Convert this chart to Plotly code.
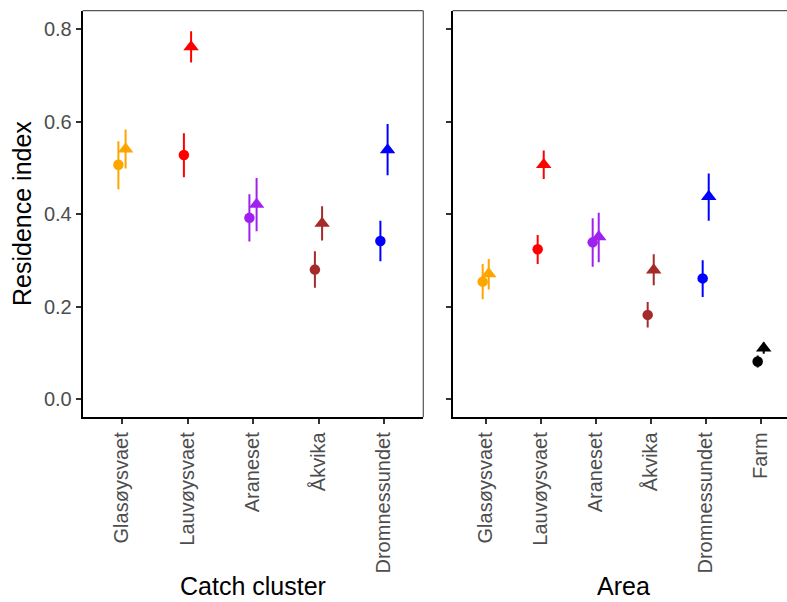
import plotly.graph_objects as go

# ---- data ----
catch_sites = ["Glasøysvaet", "Lauvøysvaet", "Araneset", "Åkvika", "Dromnessundet"]
catch_circle_mean = [0.507, 0.528, 0.392, 0.280, 0.342]
catch_circle_lo = [0.454, 0.480, 0.341, 0.241, 0.298]
catch_circle_hi = [0.558, 0.575, 0.443, 0.320, 0.386]
catch_tri_mean = [0.541, 0.762, 0.421, 0.380, 0.539]
catch_tri_lo = [0.499, 0.728, 0.363, 0.343, 0.484]
catch_tri_hi = [0.583, 0.796, 0.478, 0.417, 0.595]

area_sites = ["Glasøysvaet", "Lauvøysvaet", "Araneset", "Åkvika", "Dromnessundet", "Farm"]
area_circle_mean = [0.254, 0.324, 0.339, 0.182, 0.261, 0.081]
area_circle_lo = [0.216, 0.292, 0.286, 0.155, 0.221, 0.068]
area_circle_hi = [0.292, 0.355, 0.391, 0.210, 0.300, 0.094]
area_tri_mean = [0.271, 0.507, 0.351, 0.279, 0.438, 0.110]
area_tri_lo = [0.237, 0.476, 0.296, 0.246, 0.386, 0.098]
area_tri_hi = [0.303, 0.538, 0.403, 0.313, 0.488, 0.122]

site_colors = ["#FFA500", "#FF0000", "#A020F0", "#A52A2A", "#0000FF", "#000000"]

y_ticks = [0.0, 0.2, 0.4, 0.6, 0.8]
y_ticktext = ["0.0", "0.2", "0.4", "0.6", "0.8"]

W, H = 787, 602
FONT = "Liberation Sans, Arial, sans-serif"
DODGE = 0.055

fig = go.Figure()


def add_series(sites, mean, lo, hi, symbol, size, offset, xa, ya):
    for i, s in enumerate(sites):
        c = site_colors[i]
        fig.add_trace(go.Scatter(
            x=[i + offset], y=[mean[i]], mode="markers",
            xaxis=xa, yaxis=ya, showlegend=False, hoverinfo="skip",
            marker=dict(symbol=symbol, size=size, color=c, line=dict(width=0)),
            error_y=dict(type="data", symmetric=False,
                         array=[hi[i] - mean[i]], arrayminus=[mean[i] - lo[i]],
                         width=0, thickness=2, color=c),
        ))


add_series(catch_sites, catch_circle_mean, catch_circle_lo, catch_circle_hi, "circle", 10.5, -DODGE, "x", "y")
add_series(catch_sites, catch_tri_mean, catch_tri_lo, catch_tri_hi, "triangle-up", 13.5, DODGE, "x", "y")
add_series(area_sites, area_circle_mean, area_circle_lo, area_circle_hi, "circle", 10.5, -DODGE, "x2", "y2")
add_series(area_sites, area_tri_mean, area_tri_lo, area_tri_hi, "triangle-up", 13.5, DODGE, "x2", "y2")

# panel geometry (pixels)
p1_l, p1_r = 82.7, 423.3
p2_l = 452.7
top, bot = 10.7, 417.3
yr = [-0.0396, 0.8403]
p2_spacing = 55.0
p2_right_units = (W - p2_l) / p2_spacing - 0.6
p2_center_px = p2_l + 0.5 * (len(area_sites) + 0.2) * p2_spacing

axis_common = dict(showline=True, linecolor="black", linewidth=2, ticks="outside",
                   ticklen=5, tickwidth=1.5, tickcolor="#333333", showgrid=False,
                   zeroline=False, automargin=False,
                   tickfont=dict(family=FONT, size=20, color="#4D4D4D"))

fig.update_layout(
    width=W, height=H, autosize=False,
    margin=dict(l=0, r=0, t=0, b=0, pad=0),
    paper_bgcolor="white", plot_bgcolor="white",
    xaxis=dict(domain=[p1_l / W, p1_r / W], range=[-0.6, len(catch_sites) - 0.4],
               tickvals=list(range(len(catch_sites))), ticktext=catch_sites,
               tickangle=-90, anchor="y", **axis_common),
    yaxis=dict(domain=[(H - bot) / H, (H - top) / H], range=yr, tickvals=y_ticks,
               ticktext=y_ticktext, anchor="x", **axis_common),
    xaxis2=dict(domain=[p2_l / W, 1.0], range=[-0.6, p2_right_units],
                tickvals=list(range(len(area_sites))), ticktext=area_sites,
                tickangle=-90, anchor="y2", **axis_common),
    yaxis2=dict(domain=[(H - bot) / H, (H - top) / H], range=yr, tickvals=y_ticks,
                showticklabels=False, anchor="x2", **axis_common),
)

# panel borders (top / right), grey and thin
border = dict(color="#555555", width=1.2)
fig.add_shape(type="line", xref="x domain", yref="y domain", x0=0, x1=1, y0=1, y1=1, line=border)
fig.add_shape(type="line", xref="x domain", yref="y domain", x0=1, x1=1, y0=0, y1=1, line=border)
fig.add_shape(type="line", xref="x2 domain", yref="y2 domain", x0=0, x1=1, y0=1, y1=1, line=border)

title_font = dict(family=FONT, size=25, color="black")
fig.add_annotation(text="Catch cluster", xref="paper", yref="paper",
                   x=(p1_l + p1_r) / 2 / W, y=0.0, xanchor="center", yanchor="bottom",
                   showarrow=False, font=title_font)
fig.add_annotation(text="Area", xref="paper", yref="paper",
                   x=p2_center_px / W, y=0.0, xanchor="center", yanchor="bottom",
                   showarrow=False, font=title_font)
fig.add_annotation(text="Residence index", xref="paper", yref="paper",
                   x=22 / W, y=(H - (top + bot) / 2) / H, xanchor="center", yanchor="middle",
                   textangle=-90, showarrow=False, font=title_font)

fig.write_html("out.html", config={"displayModeBar": False},
               post_script="document.body.style.margin='0';document.body.style.overflow='hidden';")
